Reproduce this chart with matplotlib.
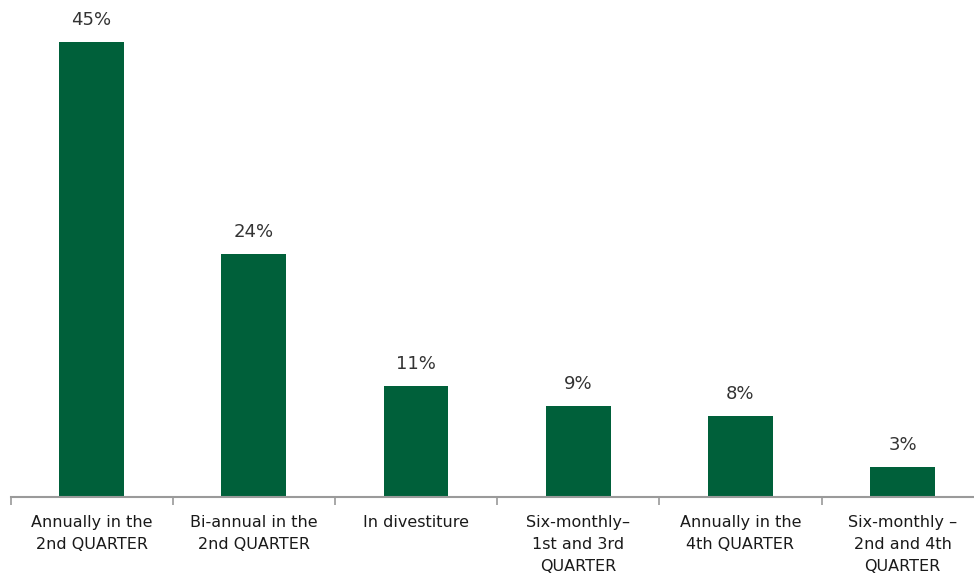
import matplotlib.pyplot as plt

categories = [
    "Annually in the\n2nd QUARTER",
    "Bi-annual in the\n2nd QUARTER",
    "In divestiture",
    "Six-monthly\u2013\n1st and 3rd\nQUARTER",
    "Annually in the\n4th QUARTER",
    "Six-monthly \u2013\n2nd and 4th\nQUARTER",
]
shares = [45, 24, 11, 9, 8, 3]

bar_color = "#00603a"
axis_color = "#9a9a9a"

fig = plt.figure(figsize=(9.74, 5.78), dpi=100)
ax = fig.add_axes([10.5 / 974, 81 / 578, 973.2 / 974, 497 / 578])

x = range(len(categories))
bars = ax.bar(x, shares, width=0.4, color=bar_color)

for b, v in zip(bars, shares):
    ax.text(b.get_x() + b.get_width() / 2, v + 1.3, f"{v}%",
            ha="center", va="bottom", fontsize=13, color="#333333")

ax.set_xlim(-0.5, len(categories) - 0.5)
ax.set_ylim(0, 49.15)

# boundary ticks between categories, labels centred under bars
ax.set_xticks([i - 0.5 for i in range(len(categories) + 1)])
ax.set_xticklabels([])
ax.set_xticks(list(x), minor=True)
ax.set_xticklabels(categories, minor=True, fontsize=11.5, color="#1a1a1a",
                   linespacing=1.6, va="top")
ax.tick_params(axis="x", which="major", length=6, width=1.2, color=axis_color,
               direction="out")
ax.tick_params(axis="x", which="minor", length=0, pad=13)
ax.set_yticks([])

for side in ["top", "right", "left"]:
    ax.spines[side].set_visible(False)
ax.spines["bottom"].set_color(axis_color)
ax.spines["bottom"].set_linewidth(1.5)

fig.savefig("out.png", dpi=100)
